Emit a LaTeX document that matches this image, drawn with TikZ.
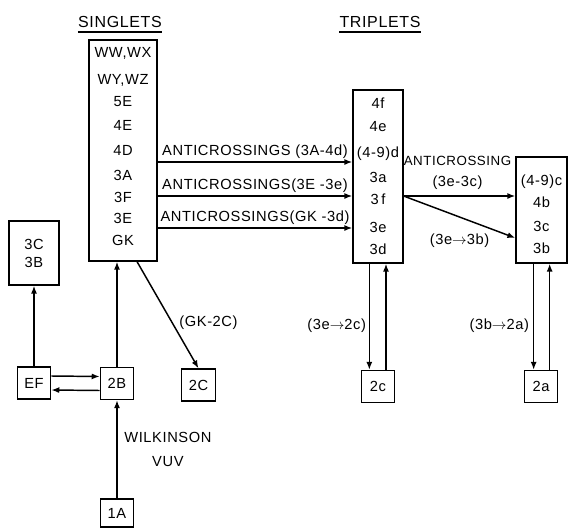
\documentclass[tikz,border=0pt]{standalone}
\usepackage{fontspec}
\setmainfont{Liberation Sans}[LetterSpace=4]
\usetikzlibrary{arrows.meta}
\newcommand{\tto}{\ensuremath{\rightarrow}}
\begin{document}
\begin{tikzpicture}[x=0.75pt, y=-0.75pt,
	every node/.style={inner sep=0pt, font=\fontsize{11}{13}\selectfont},
	box/.style={draw, line width=0.9pt},
	small/.style={box, minimum width=25pt, minimum height=24pt},
	arr/.style={-{Latex[length=6pt, width=4.5pt]}, line width=1.1pt}]
	\useasboundingbox (0,0) rectangle (569,529);
	% headings
	\node[font=\fontsize{12}{14}\selectfont] (hsing) at (120,22) {SINGLETS};
	\node[font=\fontsize{12}{14}\selectfont] (htrip) at (380,22) {TRIPLETS};
	\draw[line width=0.9pt] (hsing.west |- 0,32) -- (hsing.east |- 0,32);
	\draw[line width=0.9pt] (htrip.west |- 0,32) -- (htrip.east |- 0,32);
	% level boxes
	\node[box, minimum width=51pt, minimum height=165.75pt] (sing) at (123,150.5) {};
	\node[box, minimum width=37.5pt, minimum height=129.75pt] (trip) at (378,176.5) {};
	\node[box, minimum width=38.25pt, minimum height=79.5pt] (trc) at (541.5,210) {};
	\node[box, minimum width=37.5pt, minimum height=48pt, align=center, font=\fontsize{11}{13.5}\selectfont] (b3C) at (34,253) {3C\\3B};
	\foreach \t/\y in {{WW,WX}/53, {WY,WZ}/80, 5E/102, 4E/125, 4D/150, 3A/175, 3F/197, 3E/218, GK/240}
		\node (s\y) at (123,\y) {\t};
	\foreach \t/\y in {4f/103, 4e/127, (4-9)d/154, 3a/177, 3\,f/199, 3e/227, 3d/249}
		\node (t\y) at (378,\y) {\t};
	\foreach \t/\y in {(4-9)c/182, 4b/202, 3c/226, 3b/248}
		\node (c\y) at (541.5,\y) {\t};
	% small boxes
	\node[small] (EF) at (34,383) {EF};
	\node[small] (2B) at (117,383.5) {2B};
	\node[small] (2C) at (198.5,385) {2C};
	\node[small, minimum height=21pt] (1A) at (117,513) {1A};
	\node[small] (tc2) at (378,386.5) {2c};
	\node[small] (ta2) at (541,386.5) {2a};
	% arrow heights
	\coordinate (a1) at (0,162);
	\coordinate (a2) at (0,196);
	\coordinate (a3) at (0,228);
	\coordinate (a4) at (0,238);
	\draw[arr] (sing.east |- a1) -- node[above=2pt] {ANTICROSSINGS (3A-4d)} (trip.west |- a1);
	\draw[arr] (sing.east |- a2) -- node[above=2pt] {ANTICROSSINGS(3E -3e)} (trip.west |- a2);
	\draw[arr] (sing.east |- a3) -- node[above=2pt] {ANTICROSSINGS(GK -3d)} (trip.west |- a3);
	\draw[arr] (trip.east |- a2) -- node[above=4pt, xshift=-1.5pt, align=center, font=\fontsize{10}{16}\selectfont] {ANTICROSSING\\\fontsize{11}{13}\selectfont(3e-3c)} (trc.west |- a2);
	\draw[arr] (trip.east |- a2) -- node[below=12pt] {(3e\tto3b)} (trc.west |- a4);
	\draw[arr] ([xshift=-6.5pt]trip.south) -- node[pos=0.58, left=2pt] {(3e\tto2c)} ([xshift=-6.5pt]tc2.north);
	\draw[arr] ([xshift=6pt]tc2.north) -- ([xshift=6pt]trip.south);
	\draw[arr] ([xshift=-5.5pt]ta2.north |- trc.south) -- node[pos=0.58, left=3pt] {(3b\tto2a)} ([xshift=-5.5pt]ta2.north);
	\draw[arr] ([xshift=6.5pt]ta2.north) -- ([xshift=6.5pt]ta2.north |- trc.south);
	\draw[arr] ([xshift=10.5pt]sing.south) -- node[pos=0.57, right=5pt] {(GK-2C)} (2C.north);
	\draw[arr] (2B.north) -- (2B.north |- sing.south);
	\draw[arr] (EF.north) -- (EF.north |- b3C.south);
	\draw[arr] ([yshift=5.25pt]EF.east) -- ([yshift=5.25pt]2B.west);
	\draw[arr] ([yshift=-5.25pt]2B.west) -- ([yshift=-5.25pt]EF.east);
	\draw[arr] (1A.north) -- node[right=5pt, align=center, font=\fontsize{11}{18}\selectfont] {WILKINSON\\VUV} (2B.south);
\end{tikzpicture}
\end{document}
